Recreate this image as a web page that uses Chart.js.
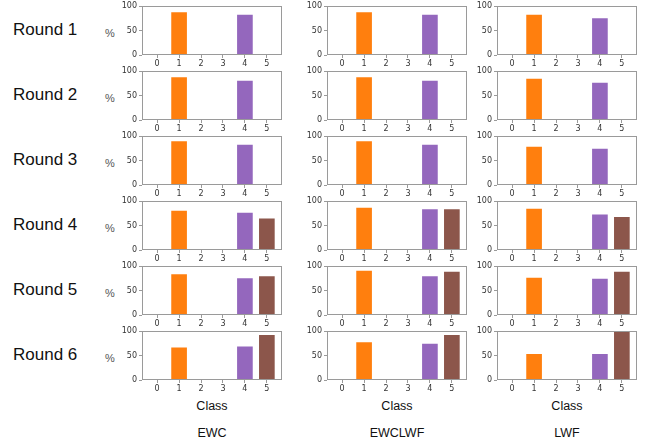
<!DOCTYPE html>
<html>
<head>
<meta charset="utf-8">
<script src="https://cdn.jsdelivr.net/npm/chart.js@4/dist/chart.umd.min.js"></script>
<style>
  html, body { margin: 0; padding: 0; background: #fff; }
  #wrap { position: relative; width: 657px; height: 443px; overflow: hidden; font-family: "Liberation Sans", Arial, sans-serif; }
  canvas { position: absolute; }
  .lbl { position: absolute; white-space: nowrap; color: #111; }
  .round { font-size: 17px; transform: translateY(-50%); }
  .pct { font-size: 11px; color: #555; transform: translateY(-50%); }
  .ctr { transform: translate(-50%, -50%); font-size: 12.5px; }
</style>
</head>
<body>
<div id="wrap"></div>
<script>
// ---- data ----
const classes = [0, 1, 2, 3, 4, 5];
const rounds = ["Round 1", "Round 2", "Round 3", "Round 4", "Round 5", "Round 6"];
const methods = ["EWC", "EWCLWF", "LWF"];
const xTitle = "Class";
const yUnit = "%";
const yTicks = [0, 50, 100];

// accuracy (%) per class, one array per round
const ewc = [
  [0, 89, 0, 0, 84, 0],
  [0, 89, 0, 0, 82, 0],
  [0, 91, 0, 0, 84, 0],
  [0, 82, 0, 0, 78, 66],
  [0, 85, 0, 0, 77, 81],
  [0, 68, 0, 0, 70, 94]
];
const ewclwf = [
  [0, 89, 0, 0, 84, 0],
  [0, 89, 0, 0, 82, 0],
  [0, 91, 0, 0, 84, 0],
  [0, 88, 0, 0, 85, 85],
  [0, 92, 0, 0, 81, 90],
  [0, 79, 0, 0, 76, 94]
];
const lwf = [
  [0, 84, 0, 0, 77, 0],
  [0, 86, 0, 0, 78, 0],
  [0, 80, 0, 0, 76, 0],
  [0, 86, 0, 0, 74, 69],
  [0, 78, 0, 0, 76, 90],
  [0, 55, 0, 0, 55, 100]
];
const methodData = [ewc, ewclwf, lwf];

// ---- styling / layout ----
const classColors = ["#1f77b4", "#ff7f0e", "#2ca02c", "#d62728", "#9467bd", "#8c564b"];
const colLefts = [142, 327, 497];
const rowTops = [5, 70, 135, 200, 265, 330];
const plotW = 140, plotH = 50;
const padL = 30, padT = 6, padR = 6, padB = 16;

const wrap = document.getElementById("wrap");

const frame = {
  id: "frame",
  afterDraw(chart) {
    const a = chart.chartArea, c = chart.ctx;
    c.save();
    c.strokeStyle = "#9a9a9a";
    c.lineWidth = 1;
    c.strokeRect(Math.round(a.left) + 0.5, Math.round(a.top) + 0.5, Math.round(a.right - a.left) - 1, Math.round(a.bottom - a.top) - 1);
    c.restore();
  }
};

function addLabel(text, cls, left, top) {
  const d = document.createElement("div");
  d.className = "lbl " + cls;
  d.textContent = text;
  d.style.left = left + "px";
  d.style.top = top + "px";
  wrap.appendChild(d);
}

rounds.forEach((r, ri) => {
  const cy = rowTops[ri] + plotH / 2;
  addLabel(r, "round", 13, cy);
  addLabel(yUnit, "pct", 105, cy + 3);
});

methods.forEach((m, mi) => {
  const cx = colLefts[mi] + plotW / 2;
  addLabel(xTitle, "ctr", cx, 406);
  addLabel(m, "ctr", cx, 433);
  rounds.forEach((r, ri) => {
    const cv = document.createElement("canvas");
    const w = padL + plotW + padR, h = padT + plotH + padB;
    cv.width = w; cv.height = h;
    cv.style.width = w + "px"; cv.style.height = h + "px";
    cv.style.left = (colLefts[mi] - padL) + "px";
    cv.style.top = (rowTops[ri] - padT) + "px";
    wrap.appendChild(cv);
    const vals = methodData[mi][ri];
    new Chart(cv, {
      type: "bar",
      data: {
        datasets: [{
          data: classes.map((c, i) => ({ x: c, y: vals[i] })),
          backgroundColor: classes.map((c, i) => classColors[i]),
          borderColor: "rgba(255,255,255,0.55)",
          borderWidth: 1,
          barThickness: 17
        }]
      },
      options: {
        responsive: false,
        animation: false,
        devicePixelRatio: 1,
        layout: { padding: { left: 0, top: padT, right: padR, bottom: 0 } },
        plugins: { legend: { display: false }, tooltip: { enabled: false } },
        scales: {
          x: {
            type: "linear",
            offset: false,
            min: -0.69, max: 5.69,
            afterBuildTicks: ax => { ax.ticks = classes.map(v => ({ value: v })); },
            afterFit: ax => { ax.height = padB; },
            grid: { display: true, offset: false, drawOnChartArea: false, drawTicks: true, tickLength: 3, color: "#9a9a9a" },
            border: { display: false },
            ticks: { font: { family: "DejaVu Sans", size: 8 }, color: "#333", padding: 1, maxRotation: 0 }
          },
          y: {
            min: 0, max: 101,
            afterBuildTicks: ax => { ax.ticks = yTicks.map(v => ({ value: v })); },
            afterFit: ax => { ax.width = padL; },
            grid: { display: true, drawOnChartArea: false, drawTicks: true, tickLength: 3, color: "#9a9a9a" },
            border: { display: false },
            ticks: { font: { family: "DejaVu Sans", size: 8 }, color: "#333", padding: 2 }
          }
        }
      },
      plugins: [frame]
    });
  });
});
</script>
</body>
</html>
